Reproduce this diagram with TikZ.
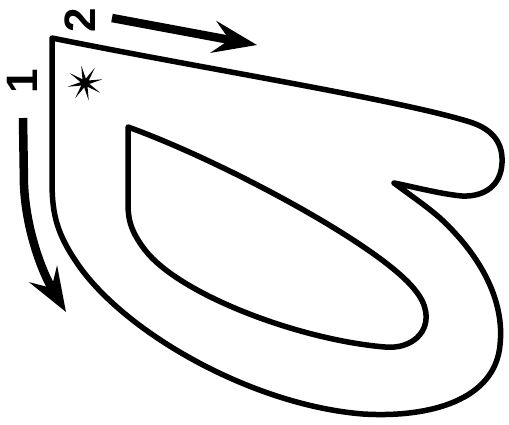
\documentclass[tikz,border=0pt]{standalone}
\usepackage{fontspec}
\setmainfont{Liberation Sans}
\usetikzlibrary{arrows.meta,shapes.geometric}
\tikzset{
  outline/.style={line width=5.5pt, line join=round, line cap=round},
  strokearrow/.style={line width=8.5pt, -{Stealth[length=44pt, width=32pt, inset=16pt]}},
  numlabel/.style={inner sep=0pt, rotate=90, font=\fontsize{44}{44}\bfseries\selectfont}
}
\begin{document}
\begin{tikzpicture}[x=1pt, y=-1pt]
\useasboundingbox (0,0) rectangle (509,424);
% outer outline
\draw[outline] (52,38) .. controls (200,68) and (400,100) .. (470,122)
  .. controls (495,130) and (503,145) .. (502,163)
  .. controls (501,185) and (485,197) .. (462,196)
  .. controls (440,194) and (410,186) .. (394,183)
  .. controls (410,195) and (425,205) .. (440,218)
  .. controls (480,255) and (505,300) .. (500,345)
  .. controls (495,400) and (430,418) .. (363,414)
  .. controls (250,405) and (120,330) .. (75,260)
  .. controls (55,230) and (52,210) .. (52,180)
  -- cycle;
% inner outline
\draw[outline] (128,127) .. controls (220,160) and (380,245) .. (415,290)
  .. controls (440,320) and (420,350) .. (385,347)
  .. controls (300,340) and (180,295) .. (145,250)
  .. controls (128,228) and (128,215) .. (128,200)
  -- cycle;
% start mark
\node[star, star points=8, star point ratio=4, minimum size=36pt, inner sep=0pt, shape border rotate=12, fill=black] (start) at (85,83) {};
% stroke labels
\node[numlabel] (n1) at (22,81) {1};
\node[numlabel] (n2) at (80,20) {2};
% stroke arrows
\coordinate (a1s) at (23,118);
\coordinate (a1e) at (66,312);
\coordinate (a2s) at (112,18);
\coordinate (a2e) at (257,45);
\draw[strokearrow] (a1s) -- (24,185) .. controls (26,230) and (42,272) .. (a1e);
\draw[strokearrow] (a2s) -- (a2e);
\end{tikzpicture}
\end{document}
